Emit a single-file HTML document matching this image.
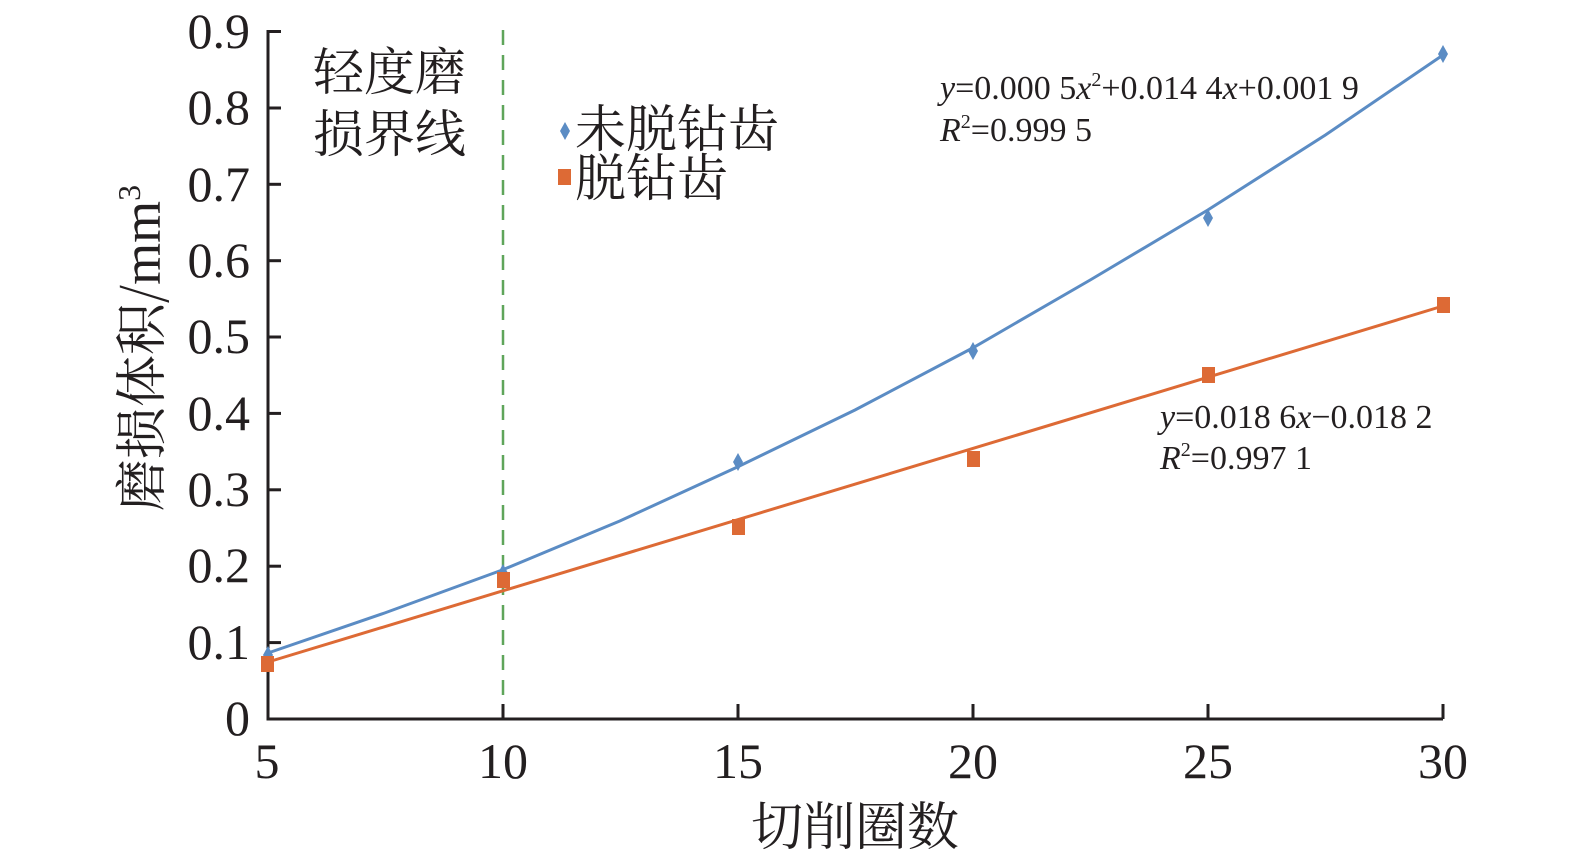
<!DOCTYPE html>
<html><head><meta charset="utf-8"><style>
html,body{margin:0;padding:0;background:#fff;}
svg{display:block;}
.t{font-family:"Liberation Serif","Noto Serif CJK SC",serif;fill:#231f20;}
.c{font-family:"Noto Serif CJK SC","Liberation Serif",serif;fill:#231f20;}
</style></head><body>
<svg width="1575" height="866" viewBox="0 0 1575 866" xmlns="http://www.w3.org/2000/svg">
<line x1="503" y1="30" x2="503" y2="719" stroke="#5fa55a" stroke-width="2.5" stroke-dasharray="15,10"/>
<g stroke="#231f20" stroke-width="3" fill="none">
<polyline points="268,30 268,719 1443,719"/>
<line x1="268" y1="31.5" x2="281" y2="31.5"/>
<line x1="268" y1="108" x2="281" y2="108"/>
<line x1="268" y1="184.3" x2="281" y2="184.3"/>
<line x1="268" y1="260.7" x2="281" y2="260.7"/>
<line x1="268" y1="337" x2="281" y2="337"/>
<line x1="268" y1="413.4" x2="281" y2="413.4"/>
<line x1="268" y1="489.8" x2="281" y2="489.8"/>
<line x1="268" y1="566.2" x2="281" y2="566.2"/>
<line x1="268" y1="642.6" x2="281" y2="642.6"/>
<line x1="503" y1="719" x2="503" y2="704"/>
<line x1="738" y1="719" x2="738" y2="704"/>
<line x1="973" y1="719" x2="973" y2="704"/>
<line x1="1208" y1="719" x2="1208" y2="704"/>
<line x1="1443" y1="719" x2="1443" y2="704"/>
</g>
<g class="t" font-size="50" text-anchor="end">
<text x="250" y="48">0.9</text>
<text x="250" y="124">0.8</text>
<text x="250" y="201">0.7</text>
<text x="250" y="277">0.6</text>
<text x="250" y="353">0.5</text>
<text x="250" y="430">0.4</text>
<text x="250" y="506">0.3</text>
<text x="250" y="582">0.2</text>
<text x="250" y="659">0.1</text>
<text x="250" y="735">0</text>
</g>
<g class="t" font-size="50" text-anchor="middle">
<text x="267" y="778">5</text>
<text x="503" y="778">10</text>
<text x="738" y="778">15</text>
<text x="973" y="778">20</text>
<text x="1208" y="778">25</text>
<text x="1443" y="778">30</text>
</g>
<text class="c" x="855" y="845" font-size="52" text-anchor="middle">切削圈数</text>
<text class="c" font-size="52" transform="translate(160,348) rotate(-90)" text-anchor="middle">磨损体积/<tspan font-family="Liberation Serif" font-size="54">mm</tspan><tspan font-family="Liberation Serif" font-size="32" dy="-20">3</tspan></text>
<polyline fill="none" stroke="#5b8cc4" stroke-width="3" points="268,653 384.6,613 502.2,570 619.8,521 737.4,467 855,410 972.6,348 1090.2,280 1207.8,210 1325.4,135 1443,55"/>
<line x1="268" y1="662" x2="1443" y2="306" stroke="#dd6a35" stroke-width="3"/>
<g fill="#5b8cc4">
<path d="M268,646 l5,9 l-5,9 l-5,-9z"/>
<path d="M503,564 l5,9 l-5,9 l-5,-9z"/>
<path d="M738,453 l5,9 l-5,9 l-5,-9z"/>
<path d="M973,342 l5,9 l-5,9 l-5,-9z"/>
<path d="M1208,209 l5,9 l-5,9 l-5,-9z"/>
<path d="M1443,45 l5,9 l-5,9 l-5,-9z"/>
<path d="M565,122 l5,9 l-5,9 l-5,-9z"/>
</g>
<g fill="#dd6a35">
<rect x="261" y="656" width="13" height="16"/>
<rect x="497" y="572" width="13" height="16"/>
<rect x="732" y="519" width="13" height="16"/>
<rect x="967" y="451" width="13" height="16"/>
<rect x="1202" y="367" width="13" height="16"/>
<rect x="1437" y="297" width="13" height="16"/>
<rect x="558" y="169" width="13" height="16"/>
</g>
<text class="c" x="313" y="90" font-size="51">轻度磨</text>
<text class="c" x="313" y="152" font-size="51">损界线</text>
<text class="c" x="575" y="147" font-size="51">未脱钻齿</text>
<text class="c" x="575" y="196" font-size="51">脱钻齿</text>
<g class="t" font-size="34">
<text x="940" y="99"><tspan font-style="italic">y</tspan>=0.000 5<tspan font-style="italic">x</tspan><tspan font-size="20" dy="-13">2</tspan><tspan dy="13">+0.014 4</tspan><tspan font-style="italic">x</tspan>+0.001 9</text>
<text x="940" y="141"><tspan font-style="italic">R</tspan><tspan font-size="20" dy="-13">2</tspan><tspan dy="13">=0.999 5</tspan></text>
<text x="1160" y="428"><tspan font-style="italic">y</tspan>=0.018 6<tspan font-style="italic">x</tspan>−0.018 2</text>
<text x="1160" y="469"><tspan font-style="italic">R</tspan><tspan font-size="20" dy="-13">2</tspan><tspan dy="13">=0.997 1</tspan></text>
</g>
</svg>
</body></html>
